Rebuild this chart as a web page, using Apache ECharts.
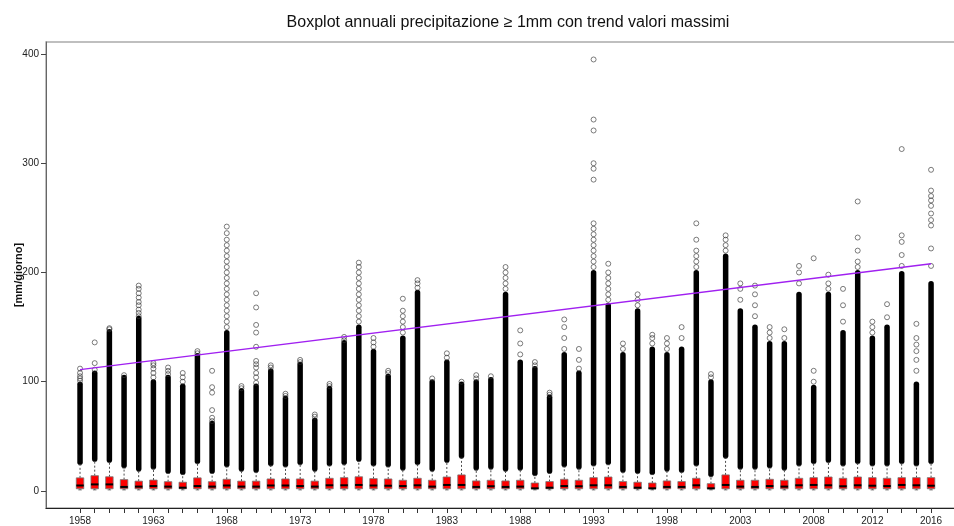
<!DOCTYPE html>
<html>
<head>
<meta charset="utf-8">
<script src="https://cdn.jsdelivr.net/npm/echarts@6/dist/echarts.min.js"></script>
<style>html,body{margin:0;padding:0;background:#fff}#c{width:954px;height:526px}</style>
</head>
<body>
<div id="c"></div>
<script>
const years = [1958,1959,1960,1961,1962,1963,1964,1965,1966,1967,1968,1969,1970,1971,1972,1973,1974,1975,1976,1977,1978,1979,1980,1981,1982,1983,1984,1985,1986,1987,1988,1989,1990,1991,1992,1993,1994,1995,1996,1997,1998,1999,2000,2001,2002,2003,2004,2005,2006,2007,2008,2009,2010,2011,2012,2013,2014,2015,2016];
const xLabelYears = [1958,1963,1968,1973,1978,1983,1988,1993,1998,2003,2008,2012,2016];
const yTickValues = [0,100,200,300,400];

const boxMin = [1,1,1,1,1,1,1,1,1,1,1,1,1,1,1,1,1,1,1,1,1,1,1,1,1,1,1,1,1,1,1,1,1,1,1,1,1,1,1,1,1,1,1,1,1,1,1,1,1,1,1,1,1,1,1,1,1,1,1];
const boxQ1 = [2,2,2,2,2,2,2,2,2,2,2,2,2,2,2,2,2,2,2,2,2,2,2,2,2,2,2,2,2,2,2,2,2,2,2,2,2,2,2,2,2,2,2,2,2,2,2,2,2,2,2,2,2,2,2,2,2,2,2];
const boxMedian = [5,6,6,3.7,4,4.5,4,3,4.5,4,5,4,4,5,5,4.5,4,5.2,5.2,5.5,5,4.8,4.5,5.2,4,5.5,5.5,3.7,4.3,3.7,4,2.4,3,4.5,4.3,5.2,5.2,3.7,3,2.4,3.7,3.7,5.2,2.4,5.5,4,3.7,4.5,4,5.2,5.5,5.2,4.3,5.2,4.8,4.5,5.5,5.2,4.8];
const boxQ3 = [12,14,13,10.4,9,10,8.5,8,12,8.5,10.7,9,9,11,11,11,9,11.6,12.2,13,11.3,11,9.8,11.6,9.8,12.8,14.7,9.2,9.8,9.2,9.8,7.3,8.6,10.7,9.8,12.2,12.8,8.6,8,7.3,9.2,8.6,11.6,6.7,14.7,9.8,9.8,10.7,9.8,11.6,12.2,12.8,11.6,12.8,12.2,11.6,12.2,12.2,12.2];
const whiskerHigh = [24,27,26,21,18,20,16,15,25,16,22,18,17,23,22,24,18,23,24,27,23,22,19,24,18,26,30,19,20,18,19,14,16,22,20,23,24,17,16,15,18,17,23,13,30,20,20,21,19,23,25,26,23,25,23,23,25,23,25];
const denseLow = [26,29,28,23,20,22,18,17,27,18,24,20,19,25,24,26,20,25,26,29,25,24,21,26,20,28,32,21,22,20,21,16,18,24,22,25,26,19,18,17,20,19,25,15,32,22,22,23,21,25,27,28,25,27,25,25,27,25,27];
const denseHigh = [98,108,146,104,158,100,104,96,124,62,145,92,96,110,85,116,65,94,136,150,128,105,140,182,100,118,98,100,102,180,118,112,86,125,108,200,170,125,165,130,125,130,200,100,215,165,150,135,135,180,95,180,145,200,140,150,199,98,190];
const outliers = [
  [101,103,105,108,112],
  [111,117,136],
  [148,149],
  [106],
  [160,163,166,170,173,177,181,185,188],
  [104,108,112,115,117],
  [107,110,113],
  [100,104,108],
  [126,128],
  [64,67,74,90,95,110],
  [150,155,160,165,170,175,180,185,190,195,200,205,210,215,220,225,230,236,242],
  [94,96],
  [99,104,108,113,116,119,132,145,152,168,181],
  [113,115],
  [87,89],
  [118,120],
  [68,70],
  [96,98],
  [138,141],
  [155,160,165,170,175,180,185,190,195,200,205,209],
  [132,136,140],
  [108,110],
  [145,150,155,160,165,176],
  [186,190,193],
  [103],
  [122,126],
  [100],
  [103,106],
  [105],
  [185,190,195,200,205],
  [125,135,147],
  [115,118],
  [88,90],
  [130,140,150,157],
  [112,120,130],
  [205,210,215,220,225,230,235,240,245,285,295,300,330,340,395],
  [175,180,185,190,195,200,208],
  [130,135],
  [170,175,180],
  [135,140,143],
  [130,135,140],
  [140,150],
  [205,210,215,220,230,245],
  [104,107],
  [220,225,230,234],
  [175,185,190],
  [160,170,180,188],
  [140,145,150],
  [140,148],
  [190,200,206],
  [100,110,213],
  [185,190,198],
  [155,170,185],
  [205,210,220,232,265],
  [145,150,155],
  [159,171],
  [206,216,228,234,313],
  [110,120,128,134,140,153],
  [206,222,243,248,254,261,266,270,275,294]
];
const trendYears = [1958, 2016];
const trendValues = [111, 208];

const boxData = years.map((y,i)=>[y, boxMin[i], boxQ1[i], boxMedian[i], boxQ3[i], whiskerHigh[i]]);
const denseData = years.map((y,i)=>[y, denseLow[i], denseHigh[i]]);
const outlierData = [];
years.forEach((y,i)=>outliers[i].forEach(v=>outlierData.push([y,v])));
const trendData = trendYears.map((y,i)=>[y, trendValues[i]]);

function renderDense(params, api){
  const x = api.value(0);
  const p1 = api.coord([x, api.value(1)]);
  const p2 = api.coord([x, api.value(2)]);
  const w = 5.5;
  return {type:'rect', shape:{x:p1[0]-w/2, y:p2[1]-2.5, width:w, height:p1[1]-p2[1]+5, r:2.75}, style:{fill:'#000'}};
}
function renderBox(params, api){
  const x = api.value(0);
  const pMin = api.coord([x, api.value(1)]);
  const pQ1 = api.coord([x, api.value(2)]);
  const pMed = api.coord([x, api.value(3)]);
  const pQ3 = api.coord([x, api.value(4)]);
  const pMax = api.coord([x, api.value(5)]);
  const cx = pMin[0], bw = 7.5, cw = 3.5;
  const dash = {stroke:'#222', lineWidth:0.8, lineDash:[2,2], fill:null};
  const solid = {stroke:'#444', lineWidth:0.8, fill:null};
  return {type:'group', children:[
    {type:'line', shape:{x1:cx,y1:pQ3[1],x2:cx,y2:pMax[1]}, style:dash},
    {type:'line', shape:{x1:cx,y1:pQ1[1],x2:cx,y2:pMin[1]}, style:dash},
    {type:'line', shape:{x1:cx-cw/2,y1:pMax[1],x2:cx+cw/2,y2:pMax[1]}, style:solid},
    {type:'line', shape:{x1:cx-cw/2,y1:pMin[1],x2:cx+cw/2,y2:pMin[1]}, style:solid},
    {type:'rect', shape:{x:cx-bw/2, y:pQ3[1], width:bw, height:pQ1[1]-pQ3[1]}, style:{fill:'#ff0000', stroke:'#777', lineWidth:0.8}},
    {type:'line', shape:{x1:cx-bw/2,y1:pMed[1],x2:cx+bw/2,y2:pMed[1]}, style:{stroke:'#000', lineWidth:2}}
  ]};
}

const chart = echarts.init(document.getElementById('c'), null, {renderer:'canvas'});
chart.setOption({
  animation:false,
  backgroundColor:'#fff',
  textStyle:{fontFamily:'Liberation Sans'},
  title:{text:'Boxplot annuali precipitazione \u2265 1mm con trend valori massimi', left:503, textAlign:'center', top:10,
    textStyle:{fontFamily:'Liberation Sans', fontSize:16, fontWeight:'normal', color:'#111'}},
  grid:{left:46, right:-2, top:42, bottom:18, show:true, borderColor:'#aaa', borderWidth:1.5, containLabel:false, outerBoundsMode:'none'},
  xAxis:{type:'value', min:1955.68, max:2017.7,
    splitLine:{show:false},
    axisLine:{show:true, onZero:false, lineStyle:{color:'#222', width:1}},
    axisTick:{show:true, length:5, customValues:years, lineStyle:{color:'#333'}},
    axisLabel:{customValues:xLabelYears, formatter:(v)=>String(Math.round(v)), fontSize:10, color:'#222', margin:8, fontFamily:'Liberation Sans'}
  },
  yAxis:{type:'value', min:-15.6, max:411,
    name:'[mm/giorno]', nameLocation:'middle', nameGap:22, nameRotate:90, nameMoveOverlap:false,
    nameTextStyle:{fontSize:11, fontWeight:'bold', color:'#111', fontFamily:'Liberation Sans'},
    splitLine:{show:false},
    axisLine:{show:true, onZero:false, lineStyle:{color:'#666', width:1}},
    axisTick:{show:true, length:5, customValues:yTickValues, lineStyle:{color:'#444'}},
    axisLabel:{customValues:yTickValues, fontSize:10, color:'#222', margin:7, fontFamily:'Liberation Sans'}
  },
  series:[
    {type:'custom', name:'dense', renderItem:renderDense, data:denseData, encode:{x:0, y:[1,2]}, silent:true, z:2},
    {type:'scatter', name:'outliers', data:outlierData, symbol:'circle', symbolSize:5, silent:true, z:3,
      itemStyle:{color:'rgba(0,0,0,0)', borderColor:'#333', borderWidth:0.8}},
    {type:'custom', name:'box', renderItem:renderBox, data:boxData, encode:{x:0, y:[1,2,3,4,5]}, silent:true, z:4},
    {type:'line', name:'trend', data:trendData, symbol:'none', silent:true, z:5,
      lineStyle:{color:'#a020f0', width:1.3}}
  ]
});
</script>
</body>
</html>
